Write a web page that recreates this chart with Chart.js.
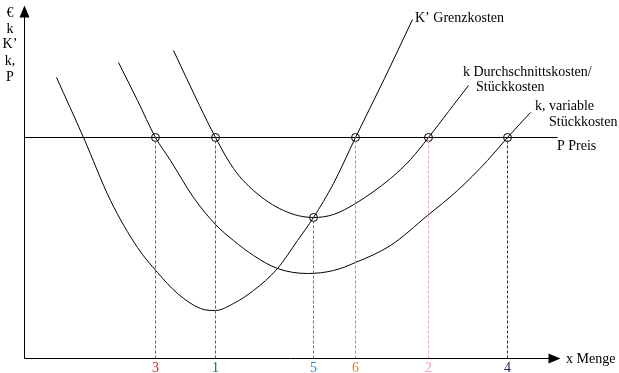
<!DOCTYPE html>
<html>
<head>
<meta charset="utf-8">
<script src="https://cdn.jsdelivr.net/npm/chart.js@4/dist/chart.umd.min.js"></script>
<style>
  body { margin: 0; background: #fff; }
  #wrap { width: 619px; height: 373px; }
</style>
</head>
<body>
<div id="wrap"><canvas id="myChart" width="619" height="373"></canvas></div>
<script>
// x = Menge, y = Kosten / Preis (origin at the axis corner)
const grenzkosten = [
  [32, 281], [59, 221], [86, 158], [113, 111], [133, 86], [153, 65],
  [176, 50], [191, 48], [209, 55], [229, 68], [253, 90], [273, 118],
  [289, 141], [309, 175], [331, 221], [360, 280], [388, 339],
];
const durchschnittskosten = [
  [149, 308], [175, 253], [191, 221], [209, 190], [229, 168], [259, 148],
  [289, 141], [309, 144], [331, 155], [366, 180], [386, 199], [404, 221],
  [424, 247], [444, 273],
];
const variableKosten = [
  [94, 296], [113, 258], [131, 221], [146, 198], [169, 161], [191, 134],
  [209, 118], [229, 103], [253, 90], [283, 85], [309, 88], [331, 96],
  [366, 113], [403, 143], [433, 168], [463, 198], [483, 221], [506, 246],
];
const preis = 221;
const preisEnde = 533;

// marked quantities: label, x, height of the marked point, colour
const mengenLabels = ["3", "1", "5", "6", "2", "4"];
const mengen = [131, 191, 289, 331, 404, 483];
const mengenHoehe = [221, 221, 141, 221, 221, 221];
const mengenFarben = ["#e03a1a", "#00904a", "#1a90e0", "#f08400", "#f0a0c0", "#202878"];
const zahlFarben = ["#e02020", "#008040", "#1090e0", "#f08000", "#f0a0c0", "#202070"];

const yAchseLabels = ["€", "k", "K’", "k,", "P"];

const curveStyle = {
  borderColor: "#000",
  borderWidth: 1,
  pointRadius: 0,
  showLine: true,
  fill: false,
  cubicInterpolationMode: "monotone",
};

const toPts = (arr) => arr.map((p) => ({ x: p[0], y: p[1] }));

const datasets = [];

mengen.forEach((m, i) => {
  datasets.push({
    data: [{ x: m, y: 0 }, { x: m, y: mengenHoehe[i] }],
    borderColor: mengenFarben[i],
    borderWidth: 1,
    borderDash: [3, 2],
    pointRadius: 0,
    showLine: true,
  });
});

datasets.push({
  data: [{ x: 0, y: preis }, { x: preisEnde, y: preis }],
  borderColor: "#000",
  borderWidth: 1,
  pointRadius: 0,
  showLine: true,
});

datasets.push({ ...curveStyle, data: toPts(grenzkosten) });
datasets.push({ ...curveStyle, data: toPts(durchschnittskosten) });
datasets.push({ ...curveStyle, data: toPts(variableKosten) });

// circles at the intersections
datasets.push({
  data: mengen.map((m, i) => ({ x: m, y: mengenHoehe[i] })),
  showLine: false,
  pointRadius: 4,
  pointStyle: "circle",
  borderColor: "#000",
  borderWidth: 1,
  backgroundColor: "rgba(0,0,0,0)",
});

const textPlugin = {
  id: "texte",
  afterDraw(chart) {
    const ctx = chart.ctx;
    const xs = chart.scales.x;
    const ys = chart.scales.y;
    const x0 = xs.getPixelForValue(0);
    const y0 = ys.getPixelForValue(0);
    const xEnd = xs.getPixelForValue(536);
    const yEnd = ys.getPixelForValue(353);

    ctx.save();
    ctx.strokeStyle = "#000";
    ctx.fillStyle = "#000";
    ctx.lineWidth = 1;
    ctx.beginPath();
    ctx.moveTo(x0, y0);
    ctx.lineTo(x0, yEnd + 4);
    ctx.moveTo(x0, y0);
    ctx.lineTo(xEnd - 4, y0);
    ctx.stroke();

    // arrow heads
    ctx.beginPath();
    ctx.moveTo(x0, yEnd);
    ctx.lineTo(x0 - 5, yEnd + 12);
    ctx.lineTo(x0 + 5, yEnd + 12);
    ctx.closePath();
    ctx.fill();
    ctx.beginPath();
    ctx.moveTo(xEnd, y0);
    ctx.lineTo(xEnd - 12, y0 - 5);
    ctx.lineTo(xEnd - 12, y0 + 5);
    ctx.closePath();
    ctx.fill();

    ctx.font = "14px 'Liberation Serif'";
    ctx.textBaseline = "middle";
    ctx.textAlign = "center";
    const yLabY = [13, 29, 44, 61, 77];
    yAchseLabels.forEach((t, i) => ctx.fillText(t, 10, yLabY[i]));

    ctx.textAlign = "left";
    ctx.fillText("K’ Grenzkosten", 415, 18);
    ctx.fillText("k Durchschnittskosten/", 463, 72);
    ctx.fillText("Stückkosten", 476, 87);
    ctx.fillText("k, variable", 535, 106);
    ctx.fillText("Stückkosten", 549, 122);
    ctx.fillText("P Preis", 557, 146);
    ctx.fillText("x Menge", 566, 359);

    ctx.textAlign = "center";
    mengen.forEach((m, i) => {
      ctx.fillStyle = zahlFarben[i];
      ctx.fillText(mengenLabels[i], xs.getPixelForValue(m), 368);
    });
    ctx.restore();
  },
};

const myChart = new Chart(document.getElementById("myChart"), {
  type: "scatter",
  data: { datasets: datasets },
  options: {
    responsive: false,
    animation: false,
    layout: { padding: 0, autoPadding: false },
    plugins: {
      legend: { display: false },
      tooltip: { enabled: false },
    },
    scales: {
      x: { type: "linear", min: -24.5, max: 594.5, display: false },
      y: { type: "linear", min: -14.5, max: 358.5, display: false },
    },
  },
  plugins: [textPlugin],
});
</script>
</body>
</html>
